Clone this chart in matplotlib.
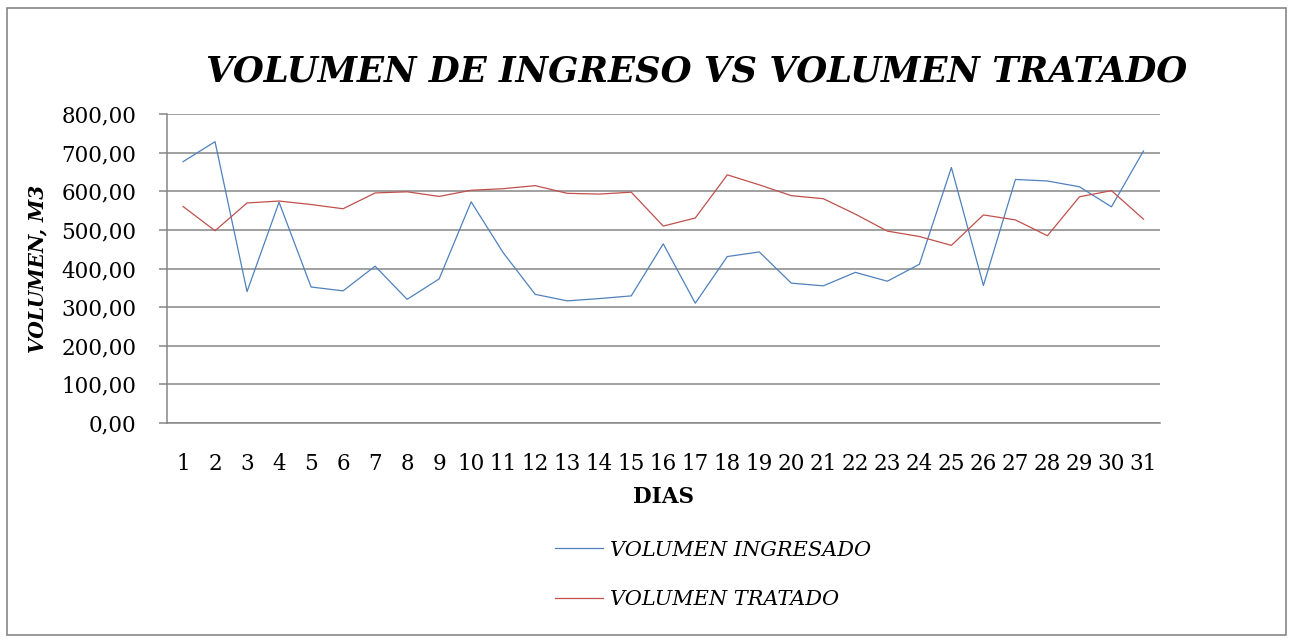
import matplotlib.pyplot as plt
from matplotlib.patches import Rectangle
from matplotlib.ticker import FuncFormatter

# Datos (lectura del gráfico)
dias = list(range(1, 32))
volumen_ingresado = [677, 729, 340, 572, 352, 342, 406, 320, 373, 573,
                     441, 333, 316, 322, 329, 464, 310, 431, 443, 362,
                     355, 390, 367, 411, 662, 356, 631, 627, 612, 560, 705]
volumen_tratado = [561, 498, 570, 575, 566, 555, 596, 599, 587, 603,
                   607, 615, 595, 593, 598, 510, 531, 643, 617, 589,
                   581, 541, 497, 483, 460, 539, 526, 485, 586, 602, 528]

fig = plt.figure(figsize=(12.93, 6.43), dpi=100)

# Borde exterior del gráfico
fig.patches.append(Rectangle((7 / 1293, 8 / 643), 1279 / 1293, 627 / 643,
                             transform=fig.transFigure, fill=False,
                             edgecolor='#868686', linewidth=1.2))

ax = fig.add_axes([167 / 1293, 220.3 / 643, 992.5 / 1293, 308.4 / 643])

ax.plot(dias, volumen_ingresado, color='#4F81BD', linewidth=0.9, label='VOLUMEN INGRESADO')
ax.plot(dias, volumen_tratado, color='#C0504D', linewidth=0.9, label='VOLUMEN TRATADO')

ax.set_xlim(0.5, 31.5)
ax.set_ylim(0, 800)
ax.set_yticks(range(0, 801, 100))
ax.yaxis.set_major_formatter(FuncFormatter(lambda v, p: f'{v:.2f}'.replace('.', ',')))
ax.set_xticks(dias)
ax.set_xticklabels([str(d) for d in dias])

ax.grid(axis='y', color='#868686', linewidth=1.1)
ax.set_axisbelow(True)
for s in ['top', 'right']:
    ax.spines[s].set_visible(False)
ax.spines['left'].set_color('#868686')
ax.spines['bottom'].set_color('#868686')
ax.spines['left'].set_linewidth(1.1)
ax.spines['bottom'].set_linewidth(1.1)

ax.tick_params(axis='y', length=6, color='#868686', width=1.1, pad=16, labelsize=15.5)
ax.tick_params(axis='x', length=0, pad=22, labelsize=15.5)
for lbl in ax.get_xticklabels() + ax.get_yticklabels():
    lbl.set_family('DejaVu Serif')

ax.set_xlabel('DIAS', fontsize=15.5, fontweight='bold', family='DejaVu Serif', labelpad=8)
ax.set_ylabel('VOLUMEN, M3', fontsize=14.5, fontweight='bold', style='italic',
              family='DejaVu Serif', labelpad=10)

fig.text(697 / 1293, 1 - 72 / 643, 'VOLUMEN DE INGRESO VS VOLUMEN TRATADO',
         ha='center', va='center', fontsize=25.6, fontweight='bold', style='italic',
         family='DejaVu Serif')

leg = ax.legend(loc='upper left', bbox_to_anchor=(536 / 1293, 1 - 522 / 643),
                bbox_transform=fig.transFigure, frameon=False, ncol=1,
                handlelength=2.3, handletextpad=0.35, labelspacing=1.45,
                prop={'family': 'DejaVu Serif', 'style': 'italic', 'size': 15})

fig.savefig('out.png', dpi=100)
